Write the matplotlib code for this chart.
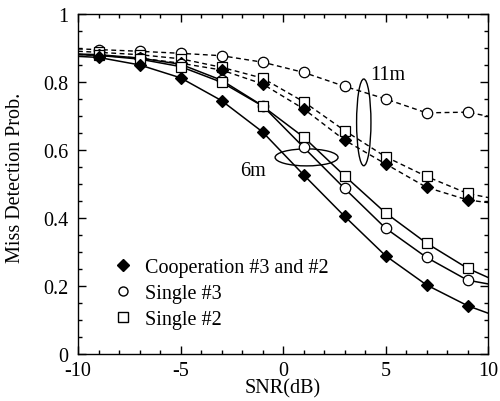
import matplotlib
matplotlib.use('Agg')
import matplotlib.pyplot as plt
from matplotlib.patches import Ellipse
from matplotlib.lines import Line2D
from matplotlib.ticker import MultipleLocator

plt.rcParams['font.family'] = ['Liberation Serif', 'DejaVu Serif']
plt.rcParams['font.size'] = 14.5
plt.rcParams['axes.unicode_minus'] = False

# SNR points where markers are drawn
snr = [-9, -7, -5, -3, -1, 1, 3, 5, 7, 9]
# line runs from axis edge to axis edge
snr_line = [-10, -9, -7, -5, -3, -1, 1, 3, 5, 7, 9, 10]

# 6m (solid)
coop_6m = [0.872, 0.850, 0.812, 0.745, 0.653, 0.527, 0.405, 0.289, 0.203, 0.142]
s3_6m = [0.880, 0.870, 0.852, 0.805, 0.730, 0.608, 0.487, 0.370, 0.284, 0.217]
s2_6m = [0.878, 0.867, 0.845, 0.799, 0.729, 0.638, 0.524, 0.415, 0.326, 0.252]
coop_6m_line = [0.875] + coop_6m + [0.120]
s3_6m_line = [0.882] + s3_6m + [0.206]
s2_6m_line = [0.880] + s2_6m + [0.225]

# 11m (dashed)
coop_11m = [0.878, 0.870, 0.855, 0.835, 0.794, 0.721, 0.629, 0.559, 0.490, 0.453]
s3_11m = [0.895, 0.890, 0.884, 0.877, 0.858, 0.828, 0.787, 0.750, 0.709, 0.711]
s2_11m = [0.887, 0.880, 0.868, 0.843, 0.811, 0.742, 0.657, 0.580, 0.522, 0.472]
coop_11m_line = [0.881] + coop_11m + [0.445]
s3_11m_line = [0.897] + s3_11m + [0.699]
s2_11m_line = [0.890] + s2_11m + [0.460]

labels = ['Cooperation #3 and #2', 'Single #3', 'Single #2']

fig = plt.figure(figsize=(5, 4.02), dpi=100)
ax = fig.add_axes([0.156, 0.117, 0.82, 0.846])

dash = (0, (3.5, 2.5))
for yl, ym, mk, fc in [(s3_11m_line, s3_11m, 'o', 'white'),
                       (s2_11m_line, s2_11m, 's', 'white'),
                       (coop_11m_line, coop_11m, 'D', 'black')]:
    ax.plot(snr_line, yl, color='black', lw=1, linestyle=dash)
    ax.plot(snr, ym, linestyle='none', marker=mk, ms=7.5 if mk != 'D' else 6.5,
            mfc=fc, mec='black', mew=0.9)

for yl, ym, mk, fc in [(s3_6m_line, s3_6m, 'o', 'white'),
                       (s2_6m_line, s2_6m, 's', 'white'),
                       (coop_6m_line, coop_6m, 'D', 'black')]:
    ax.plot(snr_line, yl, color='black', lw=1.1)
    ax.plot(snr, ym, linestyle='none', marker=mk, ms=7.5 if mk != 'D' else 6.5,
            mfc=fc, mec='black', mew=0.9)

# ellipses grouping the curves
ax.add_patch(Ellipse((1.15, 0.578), 3.07, 0.05, fill=False, lw=1, ec='black'))
ax.add_patch(Ellipse((3.94, 0.681), 0.70, 0.255, fill=False, lw=1, ec='black'))
ax.text(-1.44, 0.54, '6m', ha='center', va='center')
ax.text(5.1, 0.822, '11m', ha='center', va='center')

handles = [Line2D([], [], linestyle='none', marker='D', ms=6, mfc='black', mec='black'),
           Line2D([], [], linestyle='none', marker='o', ms=6.5, mfc='white', mec='black'),
           Line2D([], [], linestyle='none', marker='s', ms=6.5, mfc='white', mec='black')]
ax.legend(handles, labels, loc='lower left', bbox_to_anchor=(0.065, 0.05),
          frameon=False, handletextpad=0.6, labelspacing=0.35,
          borderaxespad=0, handlelength=1.0)

ax.set_xlim(-10, 10)
ax.set_ylim(0, 1)
ax.xaxis.set_major_locator(MultipleLocator(5))
ax.xaxis.set_minor_locator(MultipleLocator(1))
ax.yaxis.set_minor_locator(MultipleLocator(0.05))
ax.set_yticks([0, 0.2, 0.4, 0.6, 0.8, 1.0])
ax.set_yticklabels(['0', '0.2', '0.4', '0.6', '0.8', '1'])
ax.tick_params(which='both', direction='in', top=True, right=True, width=1)
ax.tick_params(which='major', length=6)
ax.tick_params(axis='x', which='major', pad=5)
ax.tick_params(axis='y', which='major', pad=7)
ax.tick_params(which='minor', length=3)
for s in ax.spines.values():
    s.set_linewidth(1)

ax.set_xlabel('SNR(dB)', labelpad=-1)
ax.set_ylabel('Miss Detection Prob.', labelpad=9)
ax.yaxis.set_label_coords(-0.13, 0.52)

fig.savefig('out.png', dpi=100)
